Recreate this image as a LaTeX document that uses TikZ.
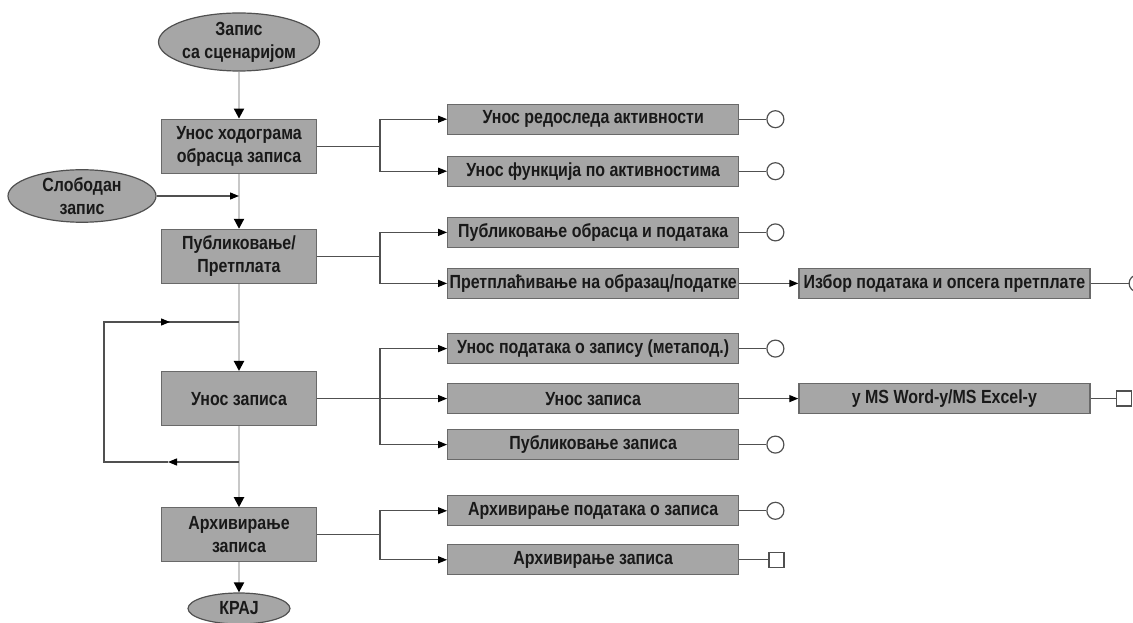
\documentclass[tikz,border=0pt]{standalone}
\usepackage{fontspec}
\setmainfont{Liberation Sans}[FakeStretch=0.84]
\usepackage{tikz}
\usetikzlibrary{positioning,calc,arrows.meta,shapes.geometric}
\definecolor{boxgray}{RGB}{166,166,166}
\definecolor{edgegray}{RGB}{105,105,105}
\definecolor{wiregray}{RGB}{80,80,80}
\definecolor{flowgray}{RGB}{200,200,200}

\begin{document}
\begin{tikzpicture}[
    x=1pt, y=1pt,
    node distance=40pt and 130pt,
    proc/.style={rectangle, draw=edgegray, fill=boxgray, line width=1.2pt, minimum width=155pt, minimum height=54pt, inner sep=2pt, font=\fontsize{19}{23}\selectfont\bfseries, text=black!90, align=center},
    term/.style={ellipse, draw=wiregray, fill=boxgray, line width=1.2pt, inner sep=0pt, font=\fontsize{19}{23}\selectfont\bfseries, text=black!90, align=center},
    sub/.style={proc, minimum width=291pt, minimum height=30pt, inner xsep=0pt},
    endo/.style={circle, draw=wiregray, fill=white, line width=1.2pt, minimum size=17pt, inner sep=0pt},
    ends/.style={rectangle, draw=wiregray, fill=white, line width=1.2pt, minimum size=15pt, inner sep=0pt},
    link/.style={draw=wiregray, line width=1.3pt},
    arr/.style={link, -{Triangle[length=9pt, width=7pt, color=black]}},
    flow/.style={draw=flowgray, line width=2pt, -{Triangle[length=10pt, width=10pt, color=black]}}
]
    \useasboundingbox (0,0) rectangle (1133,622);

    % main column
    \node[term, minimum width=146pt, minimum height=58pt] (start) at (239,580) {Запис\\са сценаријом};
    \node[proc, below=47pt of start] (hod) {Унос ходограма\\обрасца записа};
    \node[term, minimum width=148pt, minimum height=47pt] (free) at (82,426) {Слободан\\запис};
    \node[proc, below=55pt of hod] (pub) {Публиковање/\\Претплата};
    \node[proc, below=87pt of pub] (ent) {Унос записа};
    \node[proc, below=81pt of ent] (arh) {Архивирање\\записа};
    \node[term, minimum width=102pt, minimum height=31pt, below=30pt of arh] (kraj) {КРАЈ};

    % branch boxes
    \node[sub, right=of hod, yshift=27pt] (hodA) {Унос редоследа активности};
    \node[sub, right=of hod, yshift=-25pt] (hodB) {Унос функција по активностима};
    \node[sub, right=of pub, yshift=24pt] (pubA) {Публиковање обрасца и података};
    \node[sub, right=of pub, yshift=-27pt] (pubB) {Претплаћивање на образац/податке};
    \node[sub, right=59pt of pubB] (pubC) {Избор података и опсега претплате};
    \node[sub, right=of ent, yshift=50pt] (entA) {Унос података о запису (метапод.)};
    \node[sub, right=of ent] (entB) {Унос записа};
    \node[sub, right=of ent, yshift=-46pt] (entC) {Публиковање записа};
    \node[sub, right=59pt of entB] (entD) {у MS Word-у/MS Excel-у};
    \node[sub, right=of arh, yshift=24pt] (arhA) {Архивирање података о записа};
    \node[sub, right=of arh, yshift=-25pt] (arhB) {Архивирање записа};

    % end marks
    \node[endo, right=27pt of hodA] (eHodA) {};
    \node[endo, right=27pt of hodB] (eHodB) {};
    \node[endo, right=27pt of pubA] (ePubA) {};
    \node[endo, right=38pt of pubC] (ePubC) {};
    \node[endo, right=27pt of entA] (eEntA) {};
    \node[endo, right=27pt of entC] (eEntC) {};
    \node[ends, right=25pt of entD] (eEntD) {};
    \node[endo, right=27pt of arhA] (eArhA) {};
    \node[ends, right=29pt of arhB] (eArhB) {};

    % main flow
    \draw[flow] (start) -- (hod);
    \draw[flow] (hod) -- (pub);
    \draw[flow] (pub) -- (ent);
    \draw[flow] (ent) -- (arh);
    \draw[flow] (arh) -- (kraj);
    \draw[arr] (free.east) -- (free.east -| hod.south);

    % repeat loop
    \coordinate (loopT) at (239,300);
    \coordinate (loopB) at (239,160);
    \coordinate (loopTL) at (104,300);
    \coordinate (loopBL) at (104,160);
    \coordinate (loopTM) at (170,300);
    \coordinate (loopBM) at (168,160);
    \draw[arr] (loopB) -- (loopBM);
    \draw[link] (loopBM) -- (loopBL) -- (loopTL) -- (loopT);
    \draw[arr] (loopTL) -- (loopTM);

    % branches
    \foreach \src/\a/\b in {hod/hodA/hodB, pub/pubA/pubB, arh/arhA/arhB}{
        \coordinate (j\src) at ($(\src.east)+(63,0)$);
        \draw[link] (\src) -- (j\src);
        \draw[arr] (j\src) |- (\a);
        \draw[arr] (j\src) |- (\b);
    }
    \coordinate (jent) at ($(ent.east)+(63,0)$);
    \draw[link] (entA.west -| jent) -- (entC.west -| jent);
    \draw[arr] (jent) |- (entA);
    \draw[arr] (ent) -- (entB);
    \draw[arr] (jent) |- (entC);
    \draw[arr] (pubB) -- (pubC);
    \draw[arr] (entB) -- (entD);

    \draw[link] (hodA) -- (eHodA);
    \draw[link] (hodB) -- (eHodB);
    \draw[link] (pubA) -- (ePubA);
    \draw[link] (pubC) -- (ePubC);
    \draw[link] (entA) -- (eEntA);
    \draw[link] (entC) -- (eEntC);
    \draw[link] (entD) -- (eEntD);
    \draw[link] (arhA) -- (eArhA);
    \draw[link] (arhB) -- (eArhB);
\end{tikzpicture}
\end{document}
